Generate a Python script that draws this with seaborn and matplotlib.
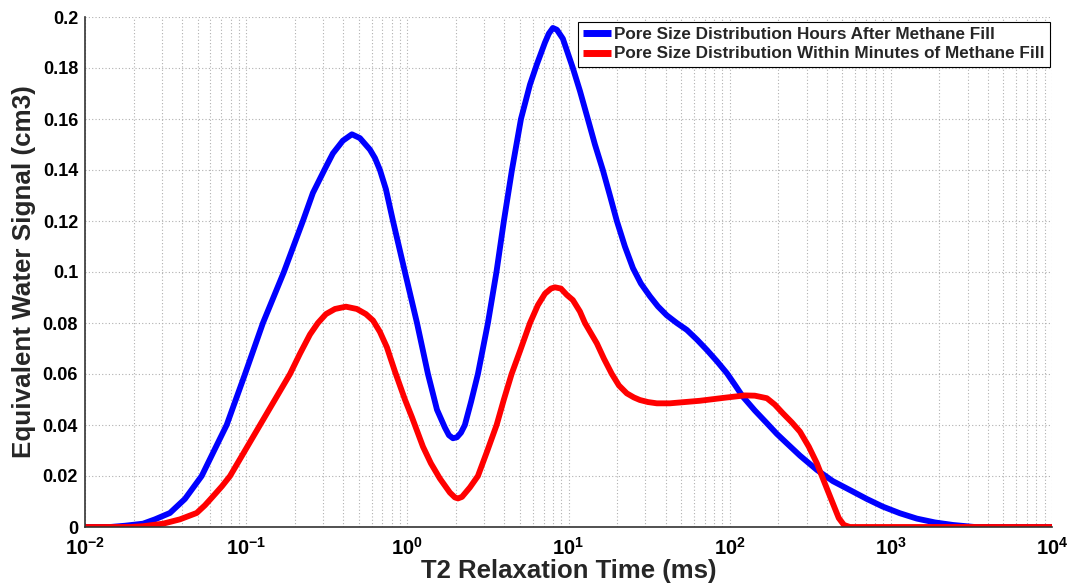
import numpy as np
import pandas as pd
import matplotlib
matplotlib.use("Agg")
import matplotlib.pyplot as plt
import seaborn as sns
from matplotlib.ticker import LogLocator, NullFormatter, FixedLocator

# ---- data ----
# x values are read as log10(T2 / ms)
blue_log_t = [-2.000, -1.845, -1.752, -1.640, -1.566, -1.473, -1.380, -1.276, -1.194, -1.121,
              -1.007, -0.896, -0.766, -0.648, -0.586, -0.511, -0.462, -0.400, -0.344, -0.294,
              -0.232, -0.201, -0.170, -0.133, -0.089, -0.015, 0.060, 0.128, 0.184, 0.233,
              0.258, 0.283, 0.308, 0.333, 0.357, 0.395, 0.438, 0.500, 0.553, 0.599,
              0.649, 0.705, 0.761, 0.804, 0.854, 0.878, 0.903, 0.928, 0.965, 1.027,
              1.071, 1.120, 1.164, 1.213, 1.257, 1.300, 1.350, 1.400, 1.449, 1.505,
              1.555, 1.610, 1.672, 1.734, 1.797, 1.859, 1.921, 1.983, 2.032, 2.082,
              2.156, 2.231, 2.293, 2.355, 2.436, 2.541, 2.640, 2.746, 2.851, 2.950,
              3.056, 3.161, 3.273, 3.385, 3.521, 4.000]
blue_v = [0.0, 0.0, 0.0005, 0.0013, 0.003, 0.0055, 0.011, 0.020, 0.0306, 0.040,
          0.060, 0.080, 0.100, 0.120, 0.131, 0.1405, 0.1465, 0.1515, 0.154, 0.1525,
          0.148, 0.1447, 0.140, 0.1325, 0.120, 0.100, 0.080, 0.060, 0.046, 0.039,
          0.036, 0.0348, 0.0352, 0.037, 0.040, 0.049, 0.060, 0.080, 0.100, 0.120,
          0.140, 0.160, 0.1735, 0.1815, 0.190, 0.1935, 0.1957, 0.195, 0.1915, 0.180,
          0.171, 0.160, 0.150, 0.140, 0.130, 0.120, 0.110, 0.1015, 0.0955, 0.0905,
          0.0865, 0.083, 0.080, 0.0773, 0.0735, 0.0694, 0.065, 0.0603, 0.0558, 0.0511,
          0.0457, 0.0407, 0.0365, 0.0328, 0.028, 0.0224, 0.018, 0.0145, 0.011, 0.008,
          0.0054, 0.0033, 0.0018, 0.0008, 0.0, 0.0]

red_log_t = [-2.000, -1.721, -1.640, -1.516, -1.411, -1.307, -1.256, -1.206, -1.150, -1.100,
             -1.007, -0.914, -0.821, -0.728, -0.666, -0.604, -0.555, -0.505, -0.449, -0.381,
             -0.313, -0.257, -0.213, -0.170, -0.127, -0.077, -0.015, 0.029, 0.097, 0.146,
             0.202, 0.264, 0.295, 0.314, 0.339, 0.388, 0.438, 0.494, 0.554, 0.599,
             0.647, 0.699, 0.761, 0.810, 0.854, 0.891, 0.916, 0.953, 0.990, 1.027,
             1.071, 1.102, 1.139, 1.176, 1.220, 1.269, 1.313, 1.362, 1.406, 1.443,
             1.493, 1.548, 1.629, 1.722, 1.815, 1.970, 2.094, 2.156, 2.231, 2.280,
             2.330, 2.386, 2.436, 2.491, 2.541, 2.591, 2.640, 2.677, 2.709, 2.746,
             4.000]
red_v = [0.0, 0.0, 0.0003, 0.0013, 0.003, 0.0055, 0.0085, 0.012, 0.016, 0.020,
         0.030, 0.040, 0.050, 0.060, 0.068, 0.0755, 0.080, 0.0835, 0.0855, 0.0864,
         0.0855, 0.0835, 0.081, 0.0765, 0.0705, 0.061, 0.050, 0.043, 0.0315, 0.025,
         0.019, 0.0135, 0.0116, 0.0112, 0.0118, 0.0155, 0.020, 0.0295, 0.040, 0.050,
         0.060, 0.069, 0.080, 0.087, 0.0915, 0.0935, 0.094, 0.0935, 0.091, 0.089,
         0.0845, 0.080, 0.076, 0.072, 0.066, 0.060, 0.0555, 0.0524, 0.0508, 0.0498,
         0.049, 0.0485, 0.0485, 0.049, 0.0495, 0.0507, 0.0516, 0.0515, 0.0505, 0.048,
         0.0446, 0.041, 0.0374, 0.0315, 0.025, 0.017, 0.0093, 0.0035, 0.0008, 0.0,
         0.0]

series_labels = ["Pore Size Distribution Hours After Methane Fill",
                 "Pore Size Distribution Within Minutes of Methane Fill"]
x_tick_exps = [-2, -1, 0, 1, 2, 3, 4]
y_ticks = [0, 0.02, 0.04, 0.06, 0.08, 0.1, 0.12, 0.14, 0.16, 0.18, 0.2]
y_tick_labels = ["0", "0.02", "0.04", "0.06", "0.08", "0.1", "0.12", "0.14", "0.16", "0.18", "0.2"]
x_label = "T2 Relaxation Time (ms)"
y_label = "Equivalent Water Signal (cm3)"

# ---- style ----
sns.set_style("white")
plt.rcParams["font.family"] = ["Liberation Sans", "DejaVu Sans"]
plt.rcParams["font.weight"] = "bold"
plt.rcParams["mathtext.fontset"] = "custom"
plt.rcParams["mathtext.rm"] = "Liberation Sans:bold"
plt.rcParams["mathtext.bf"] = "Liberation Sans:bold"
plt.rcParams["mathtext.it"] = "Liberation Sans:bold"

fig = plt.figure(figsize=(10.67, 5.88), dpi=100)
ax = fig.add_axes([85/1067, 1 - 527/588, (1052 - 85)/1067, (527 - 17)/588])

df_b = pd.DataFrame({"t": np.power(10.0, blue_log_t), "v": blue_v})
df_r = pd.DataFrame({"t": np.power(10.0, red_log_t), "v": red_v})
sns.lineplot(data=df_b, x="t", y="v", ax=ax, color=(0, 0, 1), lw=4.2,
             label=series_labels[0], sort=False, estimator=None)
sns.lineplot(data=df_r, x="t", y="v", ax=ax, color=(1, 0, 0), lw=4.2,
             label=series_labels[1], sort=False, estimator=None)
for ln in ax.get_lines():
    ln.set_solid_joinstyle("round")
    ln.set_solid_capstyle("butt")

ax.set_xscale("log")
ax.set_xlim(1e-2, 1e4)
ax.set_ylim(0, 0.2)

ax.xaxis.set_major_locator(FixedLocator([10.0**e for e in x_tick_exps]))
ax.set_xticklabels([r"$\mathbf{10^{%d}}$" % e for e in x_tick_exps])
ax.xaxis.set_minor_locator(LogLocator(base=10, subs=np.arange(2, 10), numticks=100))
ax.xaxis.set_minor_formatter(NullFormatter())
ax.set_yticks(y_ticks)
ax.set_yticklabels(y_tick_labels)

ax.tick_params(axis="both", which="major", direction="in", length=7, width=1.2,
               labelsize=13, colors="#333333", labelcolor="black", pad=5)
ax.tick_params(axis="x", which="minor", direction="in", length=4, width=1.0, colors="#333333")
ax.tick_params(axis="x", which="major", pad=7, labelsize=14.5)

ax.grid(True, which="major", axis="both", ls=(0, (1, 2)), color="#b0b0b0", lw=0.8)
ax.grid(True, which="minor", axis="x", ls=(0, (1, 2)), color="#b0b0b0", lw=0.8)

for s in ["top", "right"]:
    ax.spines[s].set_visible(False)
for s in ["left", "bottom"]:
    ax.spines[s].set_color("#333333")
    ax.spines[s].set_linewidth(1.2)

ax.set_xlabel(x_label, fontsize=18.5, fontweight="bold", labelpad=0)
ax.set_ylabel(y_label, fontsize=18.7, fontweight="bold", labelpad=5)

leg = ax.legend(loc="upper right", bbox_to_anchor=(0.9975, 0.99), frameon=True,
                fancybox=False, edgecolor="black", framealpha=1,
                prop={"weight": "bold", "size": 12.3}, handlelength=1.6,
                handletextpad=0.2, borderpad=0.3, labelspacing=0.25, borderaxespad=0)
leg.get_frame().set_linewidth(0.8)
for line in leg.get_lines():
    line.set_linewidth(5)

fig.savefig("out.png", dpi=100)
